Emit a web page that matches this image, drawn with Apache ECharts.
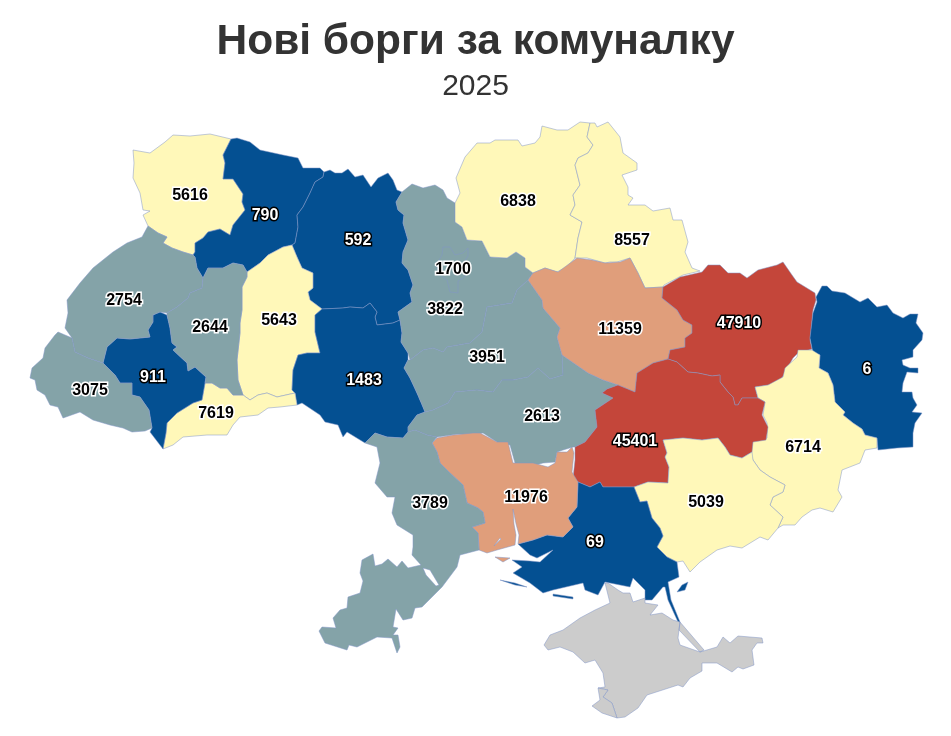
<!DOCTYPE html>
<html><head><meta charset="utf-8">
<style>html,body{margin:0;padding:0;background:#fff}#c{width:951px;height:736px}</style>
<script src="https://cdn.jsdelivr.net/npm/echarts@6/dist/echarts.min.js"></script>
</head><body><div id="c"></div>
<script>
const titleText = 'Нові борги за комуналку';
const subtitleText = '2025';
const regionNames = ['Волинська','Рівненська','Житомирська','Львівська','Тернопільська','Хмельницька','Івано-Франківська','Закарпатська','Чернівецька','Вінницька','Київ','Київська','Черкаська','Кіровоградська','Чернігівська','Сумська','Полтавська','Харківська','Луганська','Донецька','Дніпропетровська','Запорізька','Херсонська','Миколаївська','Одеська'];
const debts = [5616,790,592,2754,2644,5643,911,3075,7619,1483,1700,3822,3951,2613,6838,8557,11359,47910,6,6714,45401,5039,69,11976,3789];
const classColors = ['#045092','#84a3a8','#fff8b9','#e09e7b','#c4463a'];
const classBreaks = [1600,5000,10000,20000];

// Map outlines, in map units: each region is a list of polygons, each polygon a list of rings (2nd+ = holes).
const outlines = {
'Волинська':[['133,150 150,153 165,142 173,135 190,136 210,134 231,139 223,155 225,163 223,179 233,179 243,194 242,202 245,210 233,225 230,235 220,229 208,232 203,238 195,243 195,252 193,255 183,252 172,248 163,243 167,237 158,233 148,226 143,215 150,211 143,210 140,193 133,178 134,163']],
'Рівненська':[['231,139 237,138 250,142 260,150 283,155 298,158 303,168 320,168 324,172 323,177 315,182 310,193 303,207 297,215 298,227 295,243 292,245 283,247 268,255 260,263 247,272 243,265 233,263 223,268 208,268 203,278 197,268 195,257 193,255 195,252 195,243 203,238 208,232 220,229 230,235 233,225 245,210 242,202 243,194 233,179 223,179 225,163 223,155']],
'Житомирська':[['323,177 324,172 330,170 335,173 342,173 348,169 355,177 363,175 371,187 378,178 388,173 393,180 397,190 402,192 396,202 398,210 404,215 403,223 408,240 403,252 402,263 408,270 413,285 410,293 412,302 398,312 400,320 393,323 377,325 375,317 377,312 370,303 363,308 350,307 343,308 322,309 310,300 308,292 313,288 313,273 302,268 297,257 292,245 295,243 298,227 297,215 303,207 310,193 315,182']],
'Хмельницька':[['292,245 283,247 268,255 260,263 247,272 247,277 242,287 242,310 240,323 240,333 237,360 238,380 243,395 250,400 258,395 267,393 277,397 295,393 292,390 293,370 298,355 307,353 320,353 315,332 315,315 322,309 310,300 308,292 313,288 313,273 302,268 297,257']],
'Вінницька':[['322,309 343,308 350,307 363,308 370,303 377,312 375,317 377,325 393,323 400,320 402,333 401,342 408,353 408,360 404,368 410,378 417,393 423,407 425,412 417,415 408,427 408,432 403,438 387,437 375,433 365,443 347,432 343,437 338,425 325,422 320,415 302,403 297,405 295,393 292,390 293,370 298,355 307,353 320,353 315,332 315,315']],
'Чернівецька':[['205,383 212,383 220,388 227,388 233,395 243,395 250,400 258,395 267,393 277,397 295,393 297,405 280,407 268,408 258,415 240,417 233,425 227,435 207,435 183,437 173,445 163,449 166,433 167,423 177,413 193,403 202,400']],
'Івано-Франківська':[['153,315 160,312 167,315 170,328 172,343 177,347 173,350 187,363 188,371 195,367 206,377 205,383 202,400 193,403 177,413 167,423 166,433 163,449 150,432 152,428 149,410 140,397 132,395 132,383 120,383 115,375 103,363 107,347 117,338 130,339 150,337 148,330 153,322']],
'Львівська':[['148,226 158,233 167,237 163,243 172,248 183,252 193,255 195,257 197,268 203,278 202,288 190,293 188,298 177,307 167,313 160,312 153,315 153,322 148,330 150,337 130,339 117,338 107,347 103,363 88,358 75,352 72,338 65,328 68,313 67,300 80,283 93,268 113,252 127,243 142,237']],
'Тернопільська':[['203,278 208,268 223,268 233,263 243,265 247,272 247,277 242,287 242,310 240,323 240,333 237,360 238,380 243,395 233,395 227,388 220,388 212,383 205,383 206,377 195,367 188,371 187,363 173,350 177,347 172,343 170,328 167,315 167,313 177,307 188,298 190,293 202,288']],
'Закарпатська':[['103,363 115,375 120,383 132,383 132,395 140,397 149,410 152,428 145,431 132,432 123,428 110,425 93,420 80,412 63,418 58,407 50,405 45,395 37,390 35,380 30,378 32,368 43,358 45,348 55,335 58,332 72,338 75,352 88,358']],
'Київська':[['402,192 412,184 423,188 435,185 443,190 447,198 455,203 455,222 462,227 467,240 482,241 490,257 507,258 516,252 525,258 525,267 533,273 528,280 517,290 512,303 487,307 482,332 470,343 447,347 443,352 433,348 423,350 410,360 408,353 401,342 402,333 400,320 398,312 412,302 410,293 413,285 408,270 402,263 403,252 408,240 403,223 404,215 398,210 396,202']],
'Київ':[['442,255 443,247 450,247 455,255 463,253 468,248 468,256 462,265 465,277 458,281 458,293 450,292 447,280 440,275 436,265']],
'Черкаська':[['425,412 433,410 448,403 455,392 477,390 493,392 502,380 513,380 528,377 538,368 550,379 563,375 562,355 557,337 560,328 543,308 542,300 528,280 517,290 512,303 487,307 482,332 470,343 447,347 443,352 433,348 423,350 410,360 408,360 404,368 410,378 417,393 423,407']],
'Кіровоградська':[['425,412 433,410 448,403 455,392 477,390 493,392 502,380 513,380 528,377 538,368 550,379 563,375 562,355 588,373 603,380 618,385 607,389 602,393 613,398 595,410 597,427 585,442 575,447 573,447 563,450 557,452 555,462 543,463 528,467 515,463 510,445 497,442 483,433 470,435 458,434 437,437 427,435 415,430 408,432 408,427 417,415']],
'Чернігівська':[['455,203 460,193 456,178 465,157 477,143 490,143 495,140 518,140 522,146 535,143 540,137 542,126 557,130 568,130 580,122 590,123 587,137 593,145 588,153 578,158 575,165 580,185 573,195 575,205 570,215 582,222 578,238 575,258 567,267 557,272 545,268 533,273 525,267 525,258 516,252 507,258 490,257 482,241 467,240 462,227 455,222']],
'Сумська':[['590,123 595,123 597,127 608,122 620,137 623,153 637,163 637,170 622,175 628,187 628,195 633,198 628,205 645,205 653,211 670,208 673,220 682,220 688,242 685,252 692,268 700,271 683,275 664,285 663,287 645,288 638,273 630,258 617,262 610,262 605,263 587,258 575,258 578,238 582,222 570,215 575,205 573,195 580,185 575,165 578,158 588,153 593,145 587,137']],
'Полтавська':[['528,280 533,273 545,268 558,272 577,258 592,260 605,263 620,262 630,258 638,273 645,288 663,287 662,298 677,310 683,320 692,325 692,333 685,338 685,347 670,350 668,359 653,363 637,373 635,392 618,385 603,380 588,373 562,355 557,337 560,328 543,308 542,300']],
'Харківська':[['663,287 680,277 702,272 708,265 720,265 728,273 740,273 747,278 758,270 777,265 783,262 792,275 797,282 815,293 816,300 813,310 810,340 812,349 798,353 793,358 782,378 770,385 755,387 758,398 742,398 738,405 735,405 733,397 728,392 720,382 720,375 712,376 698,373 688,372 677,362 668,359 670,350 685,347 685,338 692,333 692,325 683,320 677,310 662,298']],
'Луганська':[['816,297 822,286 827,286 832,291 845,293 855,299 860,302 868,298 877,307 887,305 893,313 903,318 910,314 918,314 916,323 923,333 922,340 913,350 913,357 902,360 903,365 910,368 918,368 918,373 907,372 903,383 902,392 912,392 913,398 917,405 912,412 922,413 915,423 913,433 913,447 897,448 878,450 877,438 865,435 862,429 853,423 843,415 845,412 835,402 833,385 828,373 819,368 820,355 813,353 810,338 813,313 817,302']],
'Донецька':[['798,350 812,350 820,355 819,368 828,373 833,385 835,402 845,412 843,415 853,423 862,429 865,435 877,438 877,448 865,450 860,463 842,470 838,490 842,497 833,512 820,508 812,510 802,517 795,525 783,525 778,528 783,517 770,505 773,497 783,492 785,485 770,477 760,470 753,460 750,453 753,440 767,438 767,423 763,415 765,402 758,398 755,387 768,385 783,377 785,368 797,357']],
'Дніпропетровська':[['637,373 653,363 668,359 677,362 688,372 698,373 712,376 720,375 720,382 728,392 733,397 735,405 738,405 742,398 758,398 765,402 762,415 768,427 766,440 753,442 752,452 742,458 730,455 725,447 718,438 702,440 683,438 663,440 667,453 665,457 669,467 668,483 648,482 634,487 603,487 600,482 590,487 578,482 573,478 575,460 575,447 585,442 597,427 595,410 613,398 602,393 607,389 618,385 635,392']],
'Запорізька':[['634,487 648,482 668,483 669,467 665,457 667,453 663,440 683,438 702,440 718,438 725,447 730,455 742,458 752,452 753,460 760,470 770,477 785,485 783,492 773,497 770,505 783,517 778,528 768,540 760,537 742,548 730,546 717,550 700,562 690,572 683,561 677,562 667,557 657,547 663,536 660,528 652,518 647,501 640,502']],
'Херсонська':[['573,478 578,482 590,487 600,482 603,487 634,487 640,502 647,501 652,518 660,528 663,536 657,547 667,557 677,562 679,577 668,582 671,600 680,622 678,622 668,600 665,587 663,587 652,600 645,600 645,590 633,578 630,587 605,582 598,595 585,590 583,583 553,590 543,593 530,583 513,573 522,567 512,560 530,561 540,562 553,550 537,558 530,555 518,544 533,540 547,535 563,537 573,527 568,518 577,507 578,482'],
  ['500,580 515,583 527,587 515,585'],['553,594 573,597 573,599 553,596'],['677,592 682,585 688,582 685,590']],
'Миколаївська':[['432,443 437,438 453,435 473,433 480,433 497,442 508,442 513,463 533,463 548,467 555,463 557,452 567,452 572,447 574,453 572,472 578,482 577,507 568,518 573,527 563,537 547,535 533,540 518,544 517,544 519,535 516,524 513,509 514,524 516,535 515,545 497,550 487,553 479,550 478,533 472,527 485,523 483,512 478,508 467,503 463,485 450,473 440,463 437,452','500,538 494,546 495,546 501,539'],
  ['495,557 510,558 503,562']],
'Одеська':[['365,443 375,433 387,437 403,438 408,432 415,430 427,435 437,437 432,443 437,452 440,463 450,473 463,485 467,503 478,508 483,512 485,523 472,527 478,533 479,550 460,555 457,567 442,587 422,607 415,608 412,618 403,620 396,609 393,627 398,628 393,635 398,635 400,647 397,653 392,638 377,637 357,647 349,645 347,650 325,643 319,631 322,627 336,628 333,618 340,610 347,608 348,597 360,593 363,581 360,573 362,560 373,554 375,566 382,564 388,559 397,567 402,561 408,568 421,565 412,555 413,547 413,535 397,525 392,513 395,497 387,497 375,483 380,463 377,447','423,568 426,575 436,586 439,585 430,570']],
'Крим':[['605,583 610,603 595,610 580,618 563,630 550,635 544,645 548,650 560,647 573,652 585,663 595,660 603,673 605,687 598,688 608,690 603,697 612,703 617,718 625,717 638,708 647,695 678,685 683,687 690,678 702,671 702,663 717,663 732,672 738,667 743,669 754,665 752,650 757,643 763,643 762,638 738,636 730,643 723,637 717,647 700,652 680,645 678,638 680,622 673,620 662,613 650,615 658,605 645,603 645,598 633,602 630,593 623,593 618,590 608,583'],
  ['680,622 704,650 700,652 679,630']],
'Севастополь':[['598,688 608,690 603,697 612,703 617,718 602,713 592,706 600,700']]
};
// Where each region's number sits, in the same map units.
const labelAnchors = {'Волинська':[190,195],'Рівненська':[265,215],'Житомирська':[358,240],'Львівська':[124,300],'Тернопільська':[210,327],'Хмельницька':[279,320],'Івано-Франківська':[153,377],'Закарпатська':[90,390],'Чернівецька':[216,413],'Вінницька':[364,380],'Київ':[453,269],'Київська':[445,309],'Черкаська':[487,357],'Кіровоградська':[542,416],'Чернігівська':[518,201],'Сумська':[632,240],'Полтавська':[620,329],'Харківська':[739,323],'Луганська':[867,369],'Донецька':[803,447],'Дніпропетровська':[635,441],'Запорізька':[706,502],'Херсонська':[595,542],'Миколаївська':[526,497],'Одеська':[430,503]};

const ring = s => s.split(' ').map(p => { const [x,y] = p.split(',').map(Number); return [x,-y]; });
const geo = {type:'FeatureCollection',features:Object.keys(outlines).map(name => ({
  type:'Feature',
  properties:{name, cp: labelAnchors[name] ? [labelAnchors[name][0], -labelAnchors[name][1]] : undefined},
  geometry:{type:'MultiPolygon',coordinates:outlines[name].map(poly => poly.map(ring))}
}))};
echarts.registerMap('ua', geo);

const isDark = v => v < classBreaks[0] || v >= classBreaks[3];
const seriesData = regionNames.map((name,i) => ({
  name, value: debts[i],
  label:{color:isDark(debts[i])?'#ffffff':'#000000', textBorderColor:isDark(debts[i])?'#000000':'#ffffff'}
}));
const chart = echarts.init(document.getElementById('c'), null, {renderer:'canvas'});
chart.setOption({
  animation:false, backgroundColor:'#ffffff',
  title:[
    {text:titleText,left:'center',top:16,textStyle:{fontFamily:'"Liberation Sans",Arial,sans-serif',fontWeight:'bold',fontSize:42.5,color:'#333333'}},
    {text:subtitleText,left:'center',top:67,textStyle:{fontFamily:'"Liberation Sans",Arial,sans-serif',fontWeight:'normal',fontSize:30,color:'#333333'}}
  ],
  visualMap:{type:'piecewise',show:false,seriesIndex:0,pieces:[
    {lt:classBreaks[0],color:classColors[0]},
    {gte:classBreaks[0],lt:classBreaks[1],color:classColors[1]},
    {gte:classBreaks[1],lt:classBreaks[2],color:classColors[2]},
    {gte:classBreaks[2],lt:classBreaks[3],color:classColors[3]},
    {gte:classBreaks[3],color:classColors[4]}
  ]},
  series:[{
    type:'map',map:'ua',aspectScale:1,left:30,top:122,width:893,height:596,roam:false,silent:true,
    itemStyle:{areaColor:'#cccccc',borderColor:'rgba(130,150,200,0.5)',borderWidth:1},
    emphasis:{disabled:true},select:{disabled:true},
    label:{show:true,formatter:p => (isFinite(p.value) ? String(p.value) : ''),offset:[0,1],fontFamily:'"Liberation Sans",Arial,sans-serif',fontWeight:'bold',fontSize:16,textBorderWidth:3},
    data:seriesData
  }]
});
</script></body></html>
